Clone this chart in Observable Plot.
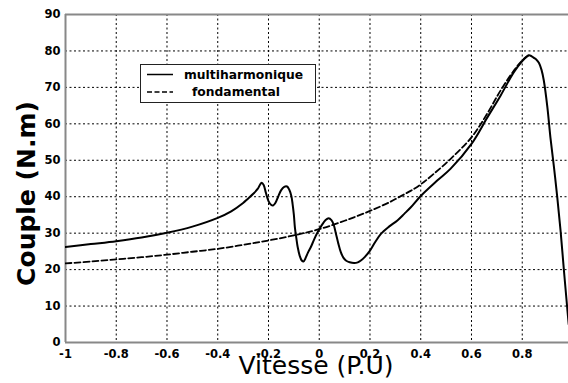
<!DOCTYPE html>
<html>
<head>
<meta charset="utf-8">
<script src="https://cdn.jsdelivr.net/npm/d3@7"></script>
<script src="https://cdn.jsdelivr.net/npm/@observablehq/plot@0.6"></script>
<style>
  html, body { margin: 0; padding: 0; background: #fff; }
  #chart { width: 568px; height: 383px; }
</style>
</head>
<body>
<div id="chart"></div>
<script>
// Torque vs. speed (per unit): multi-harmonic model and fundamental-only model
const speedMulti = [
  -1, -0.9, -0.8, -0.7, -0.6, -0.5, -0.4, -0.347, -0.3, -0.282, -0.26, -0.242,
  -0.234, -0.227, -0.219, -0.21, -0.2, -0.19, -0.182, -0.172, -0.162, -0.15,
  -0.138, -0.127, -0.118, -0.11, -0.105, -0.1, -0.096, -0.09, -0.085, -0.077,
  -0.069, -0.062, -0.055, -0.045, -0.033, -0.02, -0.006, 0.01, 0.025, 0.037,
  0.048, 0.057, 0.066, 0.075, 0.085, 0.095, 0.105, 0.12, 0.138, 0.152, 0.164,
  0.18, 0.2, 0.22, 0.243, 0.275, 0.308, 0.335, 0.361, 0.4, 0.466, 0.518, 0.6,
  0.662, 0.715, 0.767, 0.8, 0.815, 0.826, 0.836, 0.846, 0.856, 0.866, 0.876,
  0.885, 0.899, 0.911, 0.925, 0.938, 0.951, 0.964, 0.976, 0.983
];
const torqueMulti = [
  26.2, 27.0, 27.8, 28.8, 30.1, 31.8, 34.2, 36.0, 38.3, 39.4, 40.8, 42.2,
  43.2, 43.8, 43.2, 41.0, 38.8, 37.8, 37.6, 38.4, 40.0, 41.8,
  42.7, 42.8, 41.9, 40.2, 38.0, 35.0, 31.6, 28.5, 26.2, 23.8,
  22.5, 22.2, 23.0, 24.6, 26.2, 28.3, 30.3, 32.2, 33.6, 34.1,
  33.6, 32.3, 29.8, 27.2, 24.8, 23.3, 22.5, 22.0, 21.8, 22.0, 22.5,
  23.5, 25.2, 27.5, 29.8, 31.8, 33.5, 35.3, 37.1, 40.2, 44.5, 47.7, 54.5,
  61.7, 67.8, 74.2, 77.2, 78.3, 78.8, 78.6, 78.1, 77.6, 76.7, 74.8,
  71.9, 64.6, 56.3, 48.1, 39.9, 30.7, 20.0, 10.5, 5.0
];
const speedFund = [
  -1, -0.9, -0.8, -0.7, -0.6, -0.5, -0.4, -0.3, -0.2, -0.1, 0, 0.1, 0.2,
  0.28, 0.32, 0.36, 0.4, 0.45, 0.518, 0.6, 0.662, 0.715, 0.767, 0.8, 0.826
];
const torqueFund = [
  21.7, 22.2, 22.8, 23.4, 24.1, 24.9, 25.7, 26.8, 28.0, 29.4, 31.1, 33.4, 36.1,
  38.6, 40.1, 41.6, 43.4, 46.2, 50.4, 56.3, 62.8, 69.2, 74.6, 77.4, 78.8
];
const xTicks = [-1, -0.8, -0.6, -0.4, -0.2, 0, 0.2, 0.4, 0.6, 0.8];
const yTicks = [0, 10, 20, 30, 40, 50, 60, 70, 80, 90];
const seriesNames = ["multiharmonique", "fondamental"];
const xTitle = "Vitesse (P.U)";
const yTitle = "Couple (N.m)";

const multi = speedMulti.map((v, i) => ({v, t: torqueMulti[i]}));
const fund = speedFund.map((v, i) => ({v, t: torqueFund[i]}));

const gridStyle = {stroke: "#000", strokeWidth: 1, strokeDasharray: "2,2.5"};
const axisStyle = {stroke: "#888", strokeWidth: 2};

const chart = Plot.plot({
  width: 568,
  height: 383,
  marginLeft: 65,
  marginTop: 14,
  marginBottom: 41,
  marginRight: 0,
  style: {fontFamily: "DejaVu Sans", fontSize: "11.5px", fontWeight: "bold", background: "#fff", color: "#000"},
  x: {domain: [-1, 0.9823], ticks: xTicks, tickFormat: d => String(d), tickSize: 0, tickPadding: 7, label: null},
  y: {domain: [0, 90], ticks: yTicks, tickFormat: d => String(d), tickSize: 0, tickPadding: 5, label: null},
  marks: [
    Plot.ruleX(xTicks.filter(d => d > -1), gridStyle),
    Plot.ruleY(yTicks.filter(d => d > 0 && d < 90), gridStyle),
    Plot.ruleY([0, 90], axisStyle),
    Plot.ruleX([-1], axisStyle),
    Plot.line(fund, {x: "v", y: "t", stroke: "#000", strokeWidth: 1.8, strokeDasharray: "6,3", curve: "catmull-rom", clip: true}),
    Plot.line(multi, {x: "v", y: "t", stroke: "#000", strokeWidth: 2, curve: "catmull-rom", clip: true})
  ]
});

const svg = d3.select(chart);

// Axis titles
svg.append("text")
  .attr("x", 316).attr("y", 374)
  .attr("text-anchor", "middle")
  .style("font-family", "DejaVu Sans").style("font-size", "25px").style("font-weight", "normal")
  .text(xTitle);

svg.append("text")
  .attr("transform", "translate(35,193.5) rotate(-90)")
  .attr("text-anchor", "middle")
  .style("font-family", "DejaVu Sans").style("font-size", "25px").style("font-weight", "bold")
  .text(yTitle);

// Legend box
const legend = svg.append("g");
legend.append("rect")
  .attr("x", 140.5).attr("y", 64.5).attr("width", 175).attr("height", 38)
  .attr("fill", "#fff").attr("stroke", "#222").attr("stroke-width", 1);
const rows = [
  {name: seriesNames[0], y: 74.5, dash: null, tx: 184},
  {name: seriesNames[1], y: 92, dash: "5,2.5", tx: 192}
];
rows.forEach(r => {
  legend.append("line")
    .attr("x1", 147).attr("x2", 173).attr("y1", r.y).attr("y2", r.y)
    .attr("stroke", "#000").attr("stroke-width", 1.5)
    .attr("stroke-dasharray", r.dash);
  legend.append("text")
    .attr("x", r.tx).attr("y", r.y + 4)
    .attr("text-anchor", "start")
    .style("font-family", "DejaVu Sans").style("font-size", "12.3px").style("font-weight", "bold")
    .text(r.name);
});

document.getElementById("chart").appendChild(chart);
</script>
</body>
</html>
